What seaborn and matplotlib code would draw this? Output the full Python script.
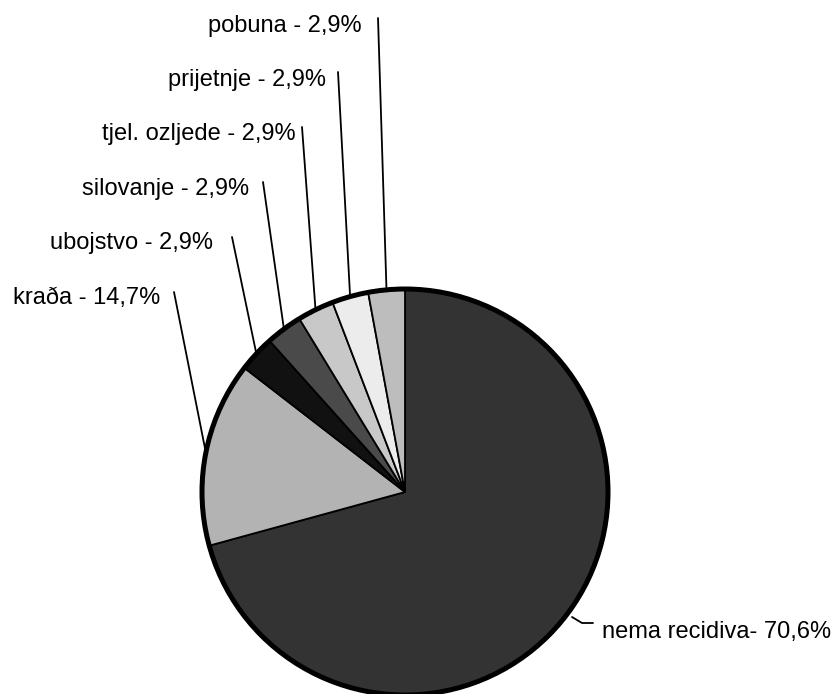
# Recidivism pie chart - greyscale, labels with leader lines

import numpy as np
import matplotlib.pyplot as plt
import seaborn as sns

# Data
categories = ['nema recidiva', 'kraða', 'ubojstvo', 'silovanje',
              'tjel. ozljede', 'prijetnje', 'pobuna']
shares = [70.6, 14.7, 2.9, 2.9, 2.9, 2.9, 2.9]
label_texts = ['nema recidiva- 70,6%', 'kraða - 14,7%', 'ubojstvo - 2,9%',
               'silovanje - 2,9%', 'tjel. ozljede - 2,9%', 'prijetnje - 2,9%',
               'pobuna - 2,9%']
colors = ['#333333', '#b3b3b3', '#111111', '#4a4a4a', '#c8c8c8', '#ececec', '#bdbdbd']

sns.set_theme(style='white')
plt.rcParams['font.family'] = ['Liberation Sans', 'DejaVu Sans']

W, H = 836, 694
cx, cy, R = 405, 492, 203   # pie centre / radius in pixels (y down)

fig = plt.figure(figsize=(W / 100, H / 100), dpi=100)
ax = fig.add_axes([0, 0, 1, 1])

wedges, _ = ax.pie(shares, colors=colors, startangle=90, counterclock=False,
                   center=(cx, H - cy), radius=R, frame=False,
                   wedgeprops=dict(edgecolor='black', linewidth=1.3))
ax.add_patch(plt.Circle((cx, H - cy), R, fill=False, edgecolor='black', lw=3.6))

# label layout (pixels, y down): leader top point, text right end, baseline
leader_tops = [None, (174, 292), (232, 237), (263, 182), (302, 127), (338, 72), (378, 18)]
text_pos = [None, (160, 304), (213, 249), (249, 195), (296, 140), (326, 86), (362, 32)]

for i, w in enumerate(wedges):
    ang = np.deg2rad((w.theta1 + w.theta2) / 2)
    ex = cx + R * np.cos(ang)
    ey = (H - cy) + R * np.sin(ang)
    if i == 0:
        continue
    tx, ty = leader_tops[i]
    ax.plot([ex, tx], [ey, H - ty], color='black', lw=1.3)
    px, py = text_pos[i]
    ax.text(px, H - py, label_texts[i], ha='right', va='baseline',
            fontsize=17, color='black')

# largest slice: elbow leader to the right
ax.plot([572, 582, 593], [H - 617, H - 623, H - 623], color='black', lw=1.3)
ax.text(602, H - 638, label_texts[0], ha='left', va='baseline',
        fontsize=17, color='black')

ax.set_xlim(0, W)
ax.set_ylim(0, H)
ax.axis('off')

plt.savefig('out.png', dpi=100)
